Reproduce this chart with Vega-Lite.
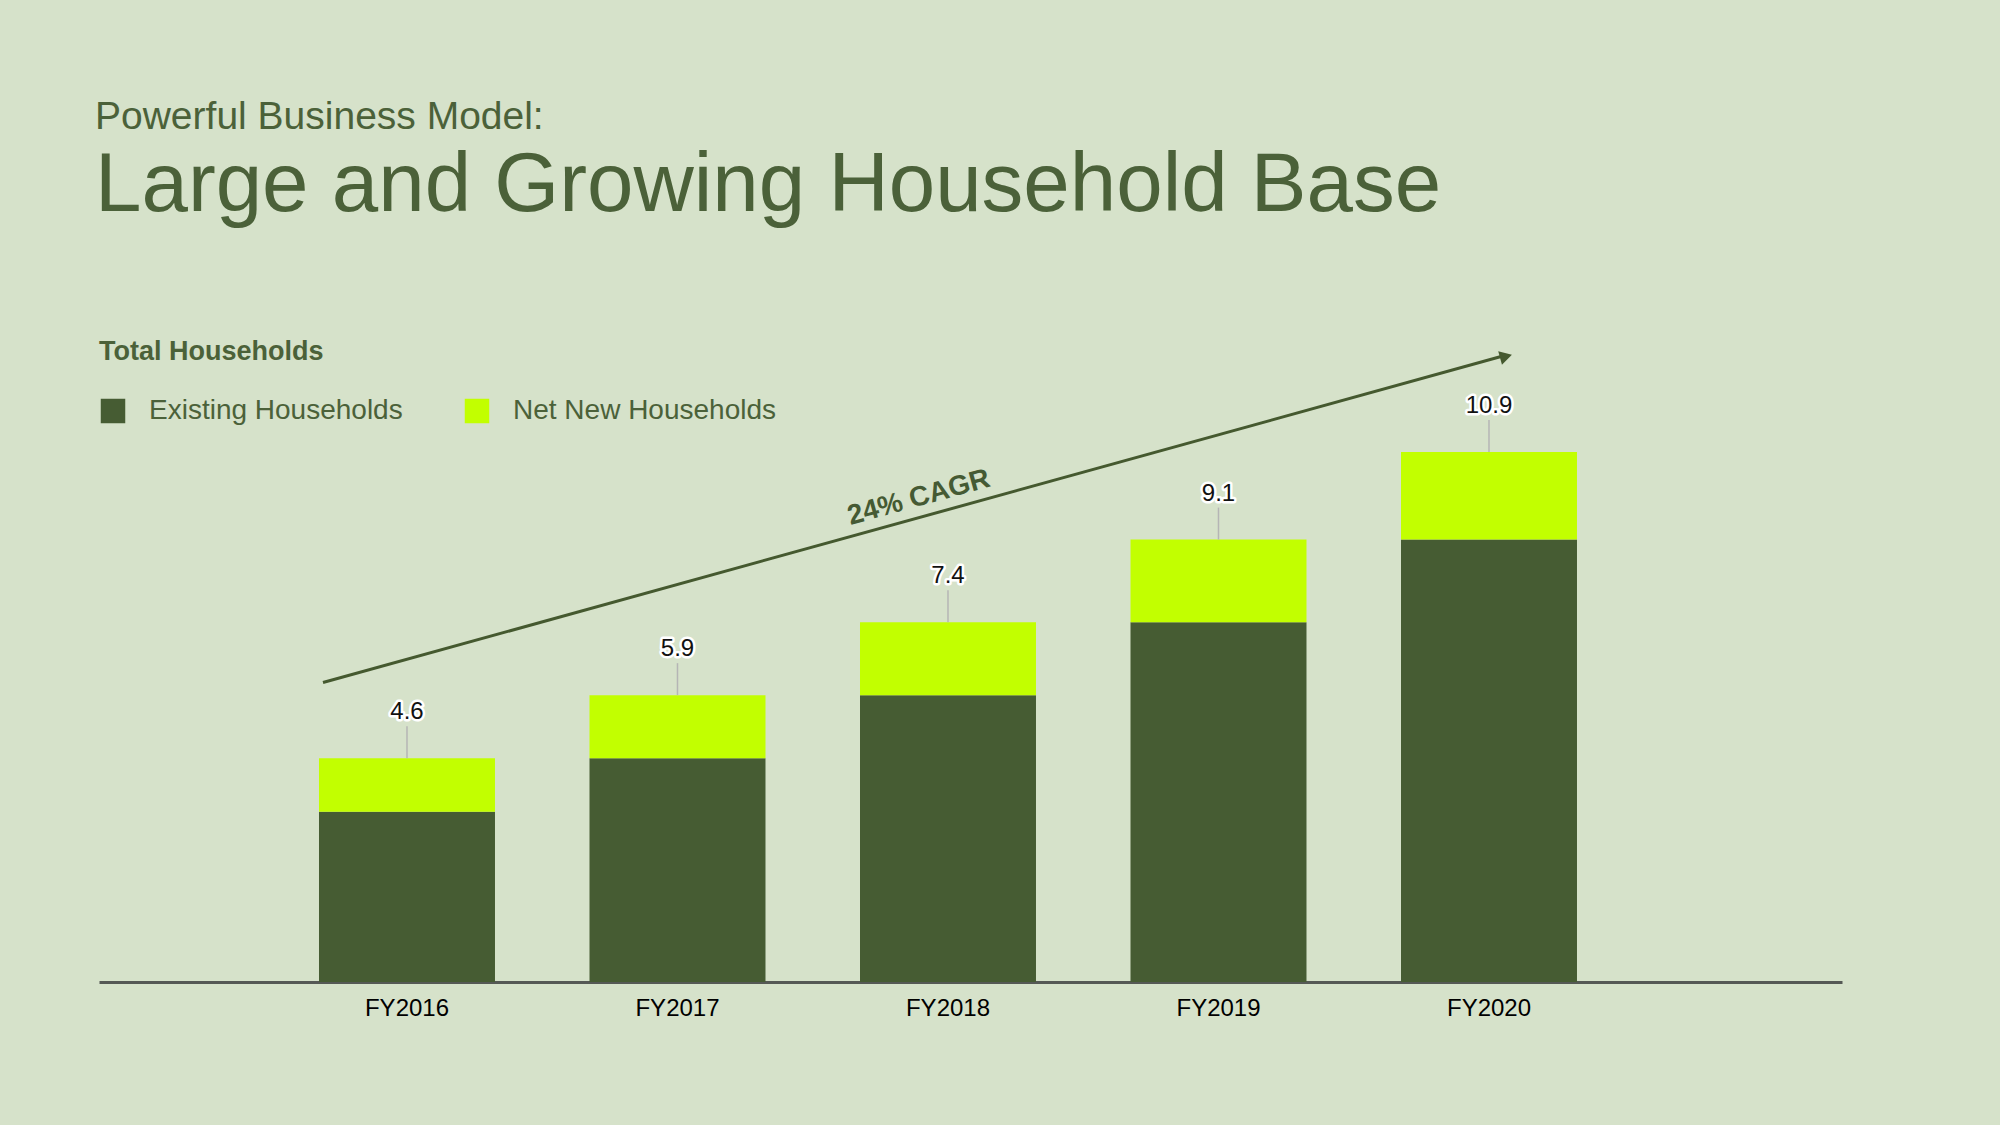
{
  "$schema": "https://vega.github.io/schema/vega-lite/v6.json",
  "autosize": "none",
  "width": 1743,
  "height": 632,
  "padding": {"left": 99, "top": 350, "right": 158, "bottom": 143},
  "background": "#d6e2ca",
  "title": {
    "text": "Powerful Business Model:",
    "subtitle": "Large and Growing Household Base",
    "anchor": "start",
    "frame": "group",
    "offset": 112,
    "dx": -4,
    "font": "Liberation Sans",
    "fontSize": 39,
    "fontWeight": "normal",
    "color": "#4b6139",
    "subtitleFont": "Liberation Sans",
    "subtitleFontSize": 83.5,
    "subtitleColor": "#4b6139",
    "subtitlePadding": 8
  },
  "config": {
    "view": {"stroke": null},
    "font": "Liberation Sans"
  },
  "datasets": {
    "bars": [
      {"year": "FY2016", "segment": "Existing Households", "value": 3.5},
      {"year": "FY2016", "segment": "Net New Households", "value": 1.1},
      {"year": "FY2017", "segment": "Existing Households", "value": 4.6},
      {"year": "FY2017", "segment": "Net New Households", "value": 1.3},
      {"year": "FY2018", "segment": "Existing Households", "value": 5.9},
      {"year": "FY2018", "segment": "Net New Households", "value": 1.5},
      {"year": "FY2019", "segment": "Existing Households", "value": 7.4},
      {"year": "FY2019", "segment": "Net New Households", "value": 1.7},
      {"year": "FY2020", "segment": "Existing Households", "value": 9.1},
      {"year": "FY2020", "segment": "Net New Households", "value": 1.8}
    ],
    "totals": [
      {"year": "FY2016", "total": 4.6},
      {"year": "FY2017", "total": 5.9},
      {"year": "FY2018", "total": 7.4},
      {"year": "FY2019", "total": 9.1},
      {"year": "FY2020", "total": 10.9}
    ],
    "arrow": [
      {"from": "FY2016", "to": "FY2020", "start": 6.16, "end": 12.87}
    ],
    "cagr": [
      {"label": "24% CAGR", "year": "FY2018", "v": 9.8}
    ]
  },
  "layer": [
    {
      "data": {"name": "bars"},
      "mark": {"type": "bar"},
      "encoding": {
        "x": {
          "field": "year",
          "type": "nominal",
          "scale": {"paddingInner": 0.3494, "paddingOuter": 0.8965, "align": 0.4536},
          "axis": {
            "title": null,
            "labelAngle": 0,
            "labelFont": "Liberation Sans",
            "labelFontSize": 24,
            "labelColor": "#000000",
            "labelPadding": 14,
            "ticks": false,
            "domainColor": "#555955",
            "domainWidth": 3
          }
        },
        "y": {
          "field": "value",
          "type": "quantitative",
          "stack": "zero",
          "scale": {"domain": [0, 13], "nice": false},
          "axis": null
        },
        "order": {"field": "segment", "type": "nominal", "sort": "ascending"},
        "color": {
          "field": "segment",
          "type": "nominal",
          "scale": {
            "domain": ["Existing Households", "Net New Households"],
            "range": ["#465c33", "#c2ff00"]
          },
          "legend": {
            "title": "Total Households",
            "orient": "none",
            "legendX": 0,
            "legendY": -11,
            "direction": "horizontal",
            "titleFont": "Liberation Sans",
            "titleFontSize": 27,
            "titleFontWeight": "bold",
            "titleColor": "#4b6139",
            "titlePadding": 31,
            "titleLimit": 600,
            "labelFont": "Liberation Sans",
            "labelFontSize": 28,
            "labelColor": "#4b6139",
            "labelOffset": 22,
            "labelLimit": 600,
            "symbolType": "square",
            "symbolSize": 600,
            "symbolStrokeWidth": 0,
            "columnPadding": 60
          }
        }
      }
    },
    {
      "data": {"name": "totals"},
      "mark": {"type": "rule", "color": "#b5b5b5", "strokeWidth": 1.5, "y2Offset": -32},
      "encoding": {
        "x": {"field": "year", "type": "nominal"},
        "y": {"field": "total", "type": "quantitative"},
        "y2": {"field": "total"}
      }
    },
    {
      "data": {"name": "totals"},
      "mark": {"type": "text", "font": "Liberation Sans", "fontSize": 24, "dy": -46, "baseline": "middle", "align": "center", "stroke": "#ffffff", "strokeWidth": 5, "strokeJoin": "round", "fill": "#ffffff"},
      "encoding": {
        "x": {"field": "year", "type": "nominal"},
        "y": {"field": "total", "type": "quantitative"},
        "text": {"field": "total", "type": "quantitative", "format": ".1f"}
      }
    },
    {
      "data": {"name": "totals"},
      "mark": {"type": "text", "font": "Liberation Sans", "fontSize": 24, "dy": -46, "baseline": "middle", "align": "center", "fill": "#111111"},
      "encoding": {
        "x": {"field": "year", "type": "nominal"},
        "y": {"field": "total", "type": "quantitative"},
        "text": {"field": "total", "type": "quantitative", "format": ".1f"}
      }
    },
    {
      "data": {"name": "arrow"},
      "mark": {"type": "rule", "color": "#45592f", "strokeWidth": 3, "xOffset": -84, "x2Offset": 13},
      "encoding": {
        "x": {"field": "from", "type": "nominal"},
        "x2": {"field": "to"},
        "y": {"field": "start", "type": "quantitative"},
        "y2": {"field": "end"}
      }
    },
    {
      "data": {"name": "arrow"},
      "mark": {"type": "point", "shape": "triangle-right", "filled": true, "size": 200, "color": "#45592f", "opacity": 1, "angle": -15.4, "xOffset": 17},
      "encoding": {
        "x": {"field": "to", "type": "nominal"},
        "y": {"field": "end", "type": "quantitative"}
      }
    },
    {
      "data": {"name": "cagr"},
      "mark": {"type": "text", "font": "Liberation Sans", "fontSize": 28, "fontWeight": "bold", "color": "#455a33", "angle": -15.42, "align": "center", "baseline": "alphabetic", "xOffset": -27},
      "encoding": {
        "x": {"field": "year", "type": "nominal"},
        "y": {"field": "v", "type": "quantitative"},
        "text": {"field": "label", "type": "nominal"}
      }
    }
  ]
}
